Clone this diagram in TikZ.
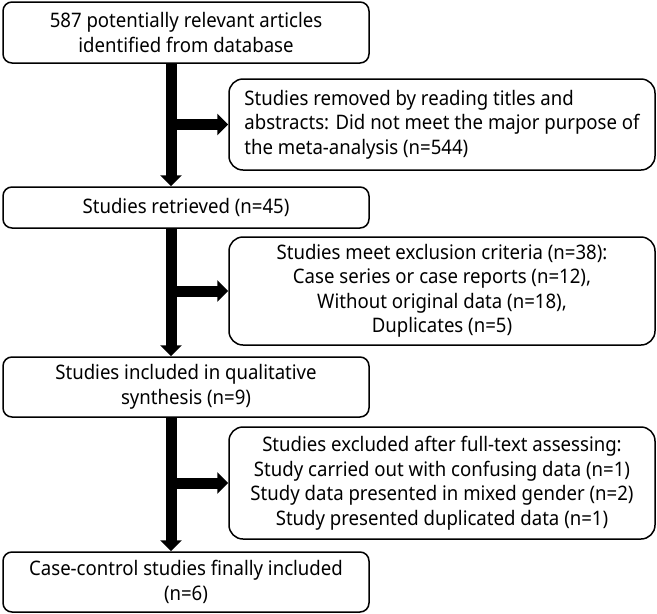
\documentclass[tikz,border=0pt]{standalone}
\usepackage{fontspec}
\setmainfont{Noto Sans}[FakeStretch=0.93]
\usepackage{tikz}
\usetikzlibrary{arrows.meta}
\tikzset{
  box/.style={draw=black, line width=1.5pt, rounded corners=9pt, minimum width=366pt,
    inner sep=0pt, align=center, font=\fontsize{20}{24.5}\selectfont},
  sidebox/.style={box, rounded corners=14pt, minimum width=426pt},
  flow/.style={line width=11pt, -{Triangle[length=11pt,width=21pt]}},
}

\begin{document}
\begin{tikzpicture}[x=1pt,y=-1pt]
  \useasboundingbox (0,0) rectangle (657,614);
  \coordinate (spine) at (171,0);   % thick main line

  \node[box, minimum height=61pt] (src) at (186,32.5)
    {587 potentially relevant articles\\identified from database};
  \node[sidebox, minimum height=91pt, align=left] (rm) at (442,124.5)
    {Studies removed by reading titles and\\abstracts: Did not meet the major purpose of\\the meta-analysis (n=544)};
  \node[box, minimum height=41pt] (ret) at (186,207.5) {Studies retrieved (n=45)};
  \node[sidebox, minimum height=108pt] (exc) at (442,291)
    {Studies meet exclusion criteria (n=38):\\Case series or case reports (n=12),\\Without original data (n=18),\\Duplicates (n=5)};
  \node[box, minimum height=60pt] (qual) at (186,387)
    {Studies included in qualitative\\synthesis (n=9)};
  \node[sidebox, minimum height=112pt] (full) at (442,483)
    {Studies excluded after full-text assessing:\\Study carried out with confusing data (n=1)\\Study data presented in mixed gender (n=2)\\Study presented duplicated data (n=1)};
  \node[box, minimum height=60pt] (fin) at (186,582)
    {Case-control studies finally included\\(n=6)};

  % branches
  \draw[flow] (spine |- rm.west) -- (rm.west);
  \draw[flow] (spine |- exc.west) -- (exc.west);
  \draw[flow] (spine |- full.west) -- (full.west);

  % main line
  \draw[flow] (src.south -| spine) -- (ret.north -| spine);
  \draw[flow] (ret.south -| spine) -- (qual.north -| spine);
  \draw[flow] (qual.south -| spine) -- (fin.north -| spine);
\end{tikzpicture}
\end{document}
